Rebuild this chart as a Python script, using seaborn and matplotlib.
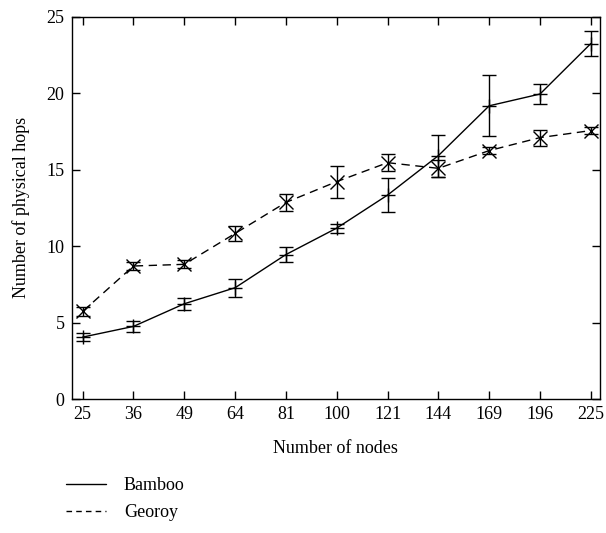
import matplotlib
matplotlib.use("Agg")
import matplotlib.pyplot as plt
import seaborn as sns
import pandas as pd
import numpy as np
from matplotlib.lines import Line2D

nodes = ["25", "36", "49", "64", "81", "100", "121", "144", "169", "196", "225"]
bamboo = [4.05, 4.75, 6.23, 7.28, 9.45, 11.18, 13.34, 15.92, 19.18, 19.95, 23.25]
bamboo_err = [0.24, 0.36, 0.38, 0.58, 0.49, 0.30, 1.09, 1.37, 1.99, 0.63, 0.82]
georoy = [5.73, 8.70, 8.81, 10.83, 12.86, 14.22, 15.46, 15.09, 16.25, 17.10, 17.56]
georoy_err = [0.30, 0.27, 0.27, 0.51, 0.55, 1.05, 0.55, 0.57, 0.23, 0.52, 0.25]

sns.set_theme(style="ticks")
plt.rcParams['font.family'] = ['Liberation Serif', 'DejaVu Serif']
plt.rcParams['font.size'] = 13
plt.rcParams['text.color'] = 'black'
plt.rcParams['axes.labelcolor'] = 'black'

fig = plt.figure(figsize=(6.06, 5.33), dpi=100)
ax = fig.add_axes([0.118, 0.2514, 0.872, 0.717])

idx = np.arange(len(nodes))
df = pd.DataFrame({
    "x": np.concatenate([idx, idx]),
    "y": bamboo + georoy,
    "series": ["Bamboo"] * len(nodes) + ["Georoy"] * len(nodes),
})

sns.lineplot(data=df, x="x", y="y", style="series", markers={"Bamboo": "+", "Georoy": "x"},
             dashes={"Bamboo": "", "Georoy": (6, 4)}, color="black", linewidth=1.0,
             markersize=10, markeredgewidth=1.0, markeredgecolor="black",
             legend=False, ax=ax)
ax.errorbar(idx, bamboo, yerr=bamboo_err, fmt="none", ecolor="black", elinewidth=1.0, capsize=5, capthick=1.0)
ax.errorbar(idx, georoy, yerr=georoy_err, fmt="none", ecolor="black", elinewidth=1.0, capsize=5, capthick=1.0)

ax.set_xlim(-0.22, 10.18)
ax.set_ylim(0, 25)
ax.set_xticks(idx)
ax.set_xticklabels(nodes)
ax.set_yticks([0, 5, 10, 15, 20, 25])
ax.tick_params(direction="in", top=True, right=True, length=6, width=1.0, colors="black",
               labelcolor="black", labelsize=13, pad=5)
for s in ax.spines.values():
    s.set_color("black")
    s.set_linewidth(1.0)
    s.set_visible(True)
ax.set_xlabel("Number of nodes", fontsize=13, labelpad=12)
ax.set_ylabel("Number of physical hops", fontsize=13, labelpad=12)

handles = [Line2D([0], [0], color="black", lw=1.0, ls="-"),
           Line2D([0], [0], color="black", lw=1.0, ls=(0, (4, 3)))]
fig.legend(handles, ["Bamboo", "Georoy"], loc="upper left", bbox_to_anchor=(0.097, 0.118),
           frameon=False, fontsize=13, handlelength=2.2, handletextpad=1.0, labelspacing=0.55,
           borderaxespad=0)

fig.savefig("out.png", dpi=100)
